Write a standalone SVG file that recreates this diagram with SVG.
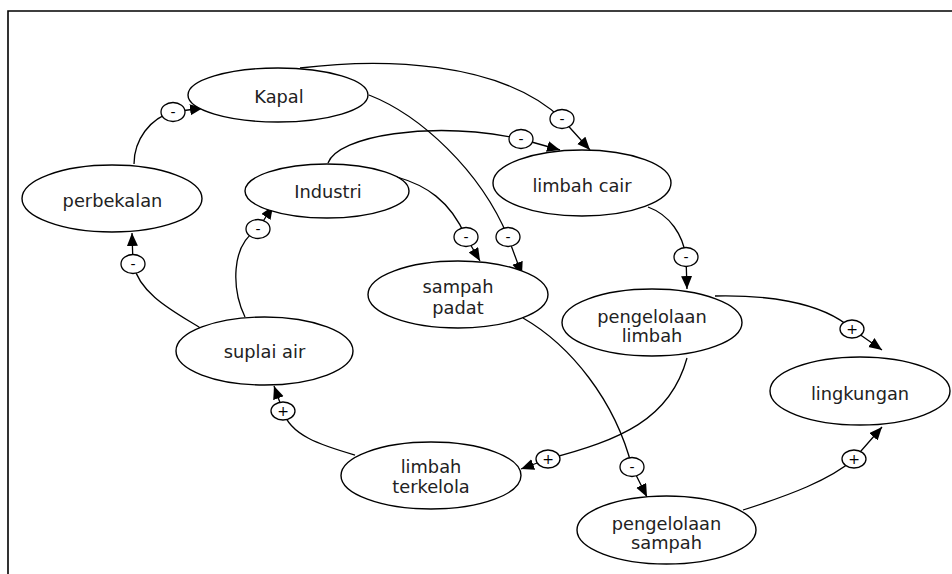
<svg xmlns="http://www.w3.org/2000/svg" width="952" height="574" viewBox="0 0 952 574">
<style>
.n ellipse{fill:#fff;stroke:#000;stroke-width:1.4}
.n text{font-family:"DejaVu Sans",Verdana,sans-serif;font-size:17.8px;fill:#222;text-anchor:middle}
.c path{fill:none;stroke:#000;stroke-width:1.3;marker-end:url(#ah)}
.s ellipse{fill:#fff;stroke:#000;stroke-width:1.3}
.s text{font-family:"DejaVu Sans",Verdana,sans-serif;font-size:14px;fill:#000;text-anchor:middle}
.frame{stroke:#000;stroke-width:1.6;fill:none}
</style>
<defs>
<marker id="ah" markerUnits="userSpaceOnUse" markerWidth="14" markerHeight="12" refX="13" refY="5.5" orient="auto">
<path d="M0,0 L13,5.5 L0,11 z" fill="#000"/>
</marker>
</defs>
<rect width="952" height="574" fill="#fff"/>
<path class="frame" d="M8,574 L8,11 L952,11"/>
<g id="connectors" class="c">
<path d="M134,164 C134,140 150,118 173,112 L203,108"/>
<path d="M202,329 C175,312 140,295 133,264 L132,233"/>
<path d="M245,317 C232,290 230,245 258,229 L273,206"/>
<path d="M300,68 C380,58 500,60 562,119 L590,150"/>
<path d="M328,163 C338,136 430,120 521,139 L560,150"/>
<path d="M397,177 C425,185 450,200 466,237 L480,261"/>
<path d="M369,95 C420,115 480,170 508,237 L522,275"/>
<path d="M648,207 C670,215 683,235 686,257 L687,289"/>
<path d="M715,296 C760,295 820,300 852,329 L882,350"/>
<path d="M687,358 C670,420 620,440 548,459 L521,469"/>
<path d="M523,318 C570,345 615,400 632,467 L647,497"/>
<path d="M743,510 C790,495 830,480 854,459 L882,427"/>
<path d="M355,455 C320,445 290,435 283,411 L274,386"/>
</g>
<g id="signs" class="s">
<g><ellipse cx="173" cy="112" rx="12" ry="9.5"/><text x="173" y="117">-</text></g>
<g><ellipse cx="133" cy="264" rx="12" ry="9.5"/><text x="133" y="269">-</text></g>
<g><ellipse cx="258" cy="229" rx="12" ry="9.5"/><text x="258" y="234">-</text></g>
<g><ellipse cx="562" cy="119" rx="12" ry="9.5"/><text x="562" y="124">-</text></g>
<g><ellipse cx="521" cy="139" rx="12" ry="9.5"/><text x="521" y="144">-</text></g>
<g><ellipse cx="466" cy="237" rx="12" ry="9.5"/><text x="466" y="242">-</text></g>
<g><ellipse cx="508" cy="237" rx="12" ry="9.5"/><text x="508" y="242">-</text></g>
<g><ellipse cx="686" cy="257" rx="12" ry="9.5"/><text x="686" y="262">-</text></g>
<g><ellipse cx="852" cy="329" rx="12" ry="9"/><text x="852" y="334">+</text></g>
<g><ellipse cx="548" cy="459" rx="12" ry="9"/><text x="548" y="464">+</text></g>
<g><ellipse cx="632" cy="467" rx="12" ry="9.5"/><text x="632" y="472">-</text></g>
<g><ellipse cx="854" cy="459" rx="12" ry="9"/><text x="854" y="464">+</text></g>
<g><ellipse cx="283" cy="411" rx="12" ry="9"/><text x="283" y="416">+</text></g>
</g>
<g id="kapal" class="n"><ellipse cx="278" cy="95" rx="90" ry="27"/><text x="279" y="103">Kapal</text></g>
<g id="perbekalan" class="n"><ellipse cx="112" cy="198.5" rx="90" ry="33.5"/><text x="112.5" y="207">perbekalan</text></g>
<g id="industri" class="n"><ellipse cx="327" cy="191" rx="82" ry="27"/><text x="328" y="198">Industri</text></g>
<g id="limbah-cair" class="n"><ellipse cx="582" cy="183" rx="89" ry="33"/><text x="582" y="192">limbah cair</text></g>
<g id="sampah-padat" class="n"><ellipse cx="458" cy="294.5" rx="90" ry="33.5"/><text x="458" y="293">sampah</text><text x="458" y="314">padat</text></g>
<g id="pengelolaan-limbah" class="n"><ellipse cx="652" cy="322.5" rx="90" ry="33.5"/><text x="652" y="323">pengelolaan</text><text x="652" y="342">limbah</text></g>
<g id="lingkungan" class="n"><ellipse cx="860" cy="391" rx="90" ry="34"/><text x="860" y="400">lingkungan</text></g>
<g id="suplai-air" class="n"><ellipse cx="264.5" cy="351" rx="88.5" ry="34"/><text x="264.5" y="358">suplai air</text></g>
<g id="limbah-terkelola" class="n"><ellipse cx="431" cy="475.5" rx="90" ry="33.5"/><text x="431" y="473">limbah</text><text x="431" y="493">terkelola</text></g>
<g id="pengelolaan-sampah" class="n"><ellipse cx="666.5" cy="530" rx="89.5" ry="34"/><text x="666.5" y="530">pengelolaan</text><text x="666.5" y="549">sampah</text></g>
</svg>
